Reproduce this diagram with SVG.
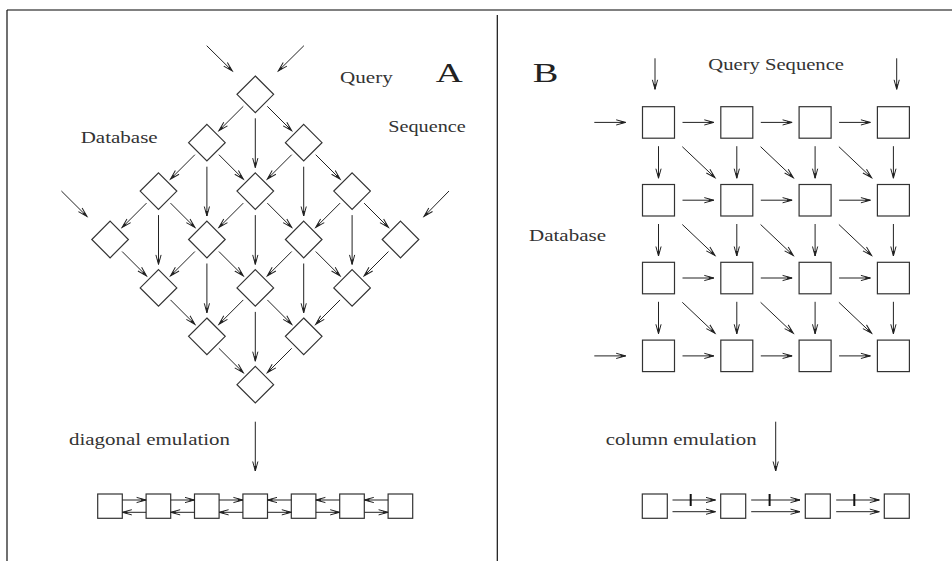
<svg xmlns="http://www.w3.org/2000/svg" xmlns:xlink="http://www.w3.org/1999/xlink" width="952" height="561" viewBox="0 0 952 561">
<style>
.ln{fill:none;stroke:#222;stroke-width:1}
.ar{fill:none;stroke:#222;stroke-width:1;marker-end:url(#ah)}
.nd{fill:#fff;stroke:#333;stroke-width:1.2}
.tk{stroke:#111;stroke-width:2}
.tx{font-family:"Liberation Serif","Times New Roman",serif;font-size:16.5px;fill:#333}
.big{font-family:"Liberation Serif","Times New Roman",serif;font-size:27.5px;fill:#222}
</style>
<defs>
<marker id="ah" markerWidth="12" markerHeight="8" refX="10" refY="4" orient="auto" markerUnits="userSpaceOnUse">
<path d="M0.5,1.4 L10,4 L0.5,6.6" fill="none" stroke="#222" stroke-width="1"/>
<path d="M5,2.6 L10,4 L5,5.4 Z" fill="#222"/>
</marker>
<polygon id="dia" points="0,-18.3 18.3,0 0,18.3 -18.3,0"/>
</defs>
<rect width="952" height="561" fill="#fff"/>
<g id="frame">
<line x1="7" y1="10" x2="952" y2="10" stroke="#808080" stroke-width="2"/>
<line x1="7" y1="10" x2="7" y2="561" stroke="#111" stroke-width="1.2"/>
<line x1="497.3" y1="15" x2="497.3" y2="561" stroke="#111" stroke-width="1.2"/>
</g>
<g id="labels">
<text class="tx" x="340" y="82.5" textLength="52.7" lengthAdjust="spacingAndGlyphs">Query</text>
<text class="big" x="435.7" y="81.7" textLength="27" lengthAdjust="spacingAndGlyphs">A</text>
<text class="tx" x="388.3" y="131.5" textLength="77.4" lengthAdjust="spacingAndGlyphs">Sequence</text>
<text class="tx" x="80.7" y="143" textLength="77" lengthAdjust="spacingAndGlyphs">Database</text>
<text class="tx" x="69" y="444.5" textLength="161" lengthAdjust="spacingAndGlyphs">diagonal emulation</text>
<text class="big" x="532.7" y="81.7" textLength="25.6" lengthAdjust="spacingAndGlyphs">B</text>
<text class="tx" x="708.3" y="70" textLength="135.7" lengthAdjust="spacingAndGlyphs">Query Sequence</text>
<text class="tx" x="529" y="240.5" textLength="77" lengthAdjust="spacingAndGlyphs">Database</text>
<text class="tx" x="605.7" y="444.5" textLength="151" lengthAdjust="spacingAndGlyphs">column emulation</text>
</g>
<g id="a-nodes" class="nd">
<g id="a-0-0"><use xlink:href="#dia" x="255.3" y="94.3"/></g>
<g id="a-1-m1"><use xlink:href="#dia" x="206.9" y="142.7"/></g>
<g id="a-1-p1"><use xlink:href="#dia" x="303.7" y="142.7"/></g>
<g id="a-2-m2"><use xlink:href="#dia" x="158.5" y="191.1"/></g>
<g id="a-2-0"><use xlink:href="#dia" x="255.3" y="191.1"/></g>
<g id="a-2-p2"><use xlink:href="#dia" x="352.1" y="191.1"/></g>
<g id="a-3-m3"><use xlink:href="#dia" x="110.1" y="239.5"/></g>
<g id="a-3-m1"><use xlink:href="#dia" x="206.9" y="239.5"/></g>
<g id="a-3-p1"><use xlink:href="#dia" x="303.7" y="239.5"/></g>
<g id="a-3-p3"><use xlink:href="#dia" x="400.5" y="239.5"/></g>
<g id="a-4-m2"><use xlink:href="#dia" x="158.5" y="287.9"/></g>
<g id="a-4-0"><use xlink:href="#dia" x="255.3" y="287.9"/></g>
<g id="a-4-p2"><use xlink:href="#dia" x="352.1" y="287.9"/></g>
<g id="a-5-m1"><use xlink:href="#dia" x="206.9" y="336.3"/></g>
<g id="a-5-p1"><use xlink:href="#dia" x="303.7" y="336.3"/></g>
<g id="a-6-0"><use xlink:href="#dia" x="255.3" y="384.7"/></g>
</g>
<g id="a-array" class="nd">
<g id="a-b1"><rect x="97.7" y="494" width="24.6" height="24.3"/></g>
<g id="a-b2"><rect x="146.1" y="494" width="24.6" height="24.3"/></g>
<g id="a-b3"><rect x="194.5" y="494" width="24.6" height="24.3"/></g>
<g id="a-b4"><rect x="242.9" y="494" width="24.6" height="24.3"/></g>
<g id="a-b5"><rect x="291.3" y="494" width="24.6" height="24.3"/></g>
<g id="a-b6"><rect x="339.7" y="494" width="24.6" height="24.3"/></g>
<g id="a-b7"><rect x="388.1" y="494" width="24.6" height="24.3"/></g>
</g>
<g id="b-nodes" class="nd">
<g id="b-1-1"><rect x="642.5" y="106.7" width="32" height="31.5"/></g>
<g id="b-1-2"><rect x="720.8" y="106.7" width="32" height="31.5"/></g>
<g id="b-1-3"><rect x="799.1" y="106.7" width="32" height="31.5"/></g>
<g id="b-1-4"><rect x="877.4" y="106.7" width="32" height="31.5"/></g>
<g id="b-2-1"><rect x="642.5" y="184.5" width="32" height="31.5"/></g>
<g id="b-2-2"><rect x="720.8" y="184.5" width="32" height="31.5"/></g>
<g id="b-2-3"><rect x="799.1" y="184.5" width="32" height="31.5"/></g>
<g id="b-2-4"><rect x="877.4" y="184.5" width="32" height="31.5"/></g>
<g id="b-3-1"><rect x="642.5" y="262.3" width="32" height="31.5"/></g>
<g id="b-3-2"><rect x="720.8" y="262.3" width="32" height="31.5"/></g>
<g id="b-3-3"><rect x="799.1" y="262.3" width="32" height="31.5"/></g>
<g id="b-3-4"><rect x="877.4" y="262.3" width="32" height="31.5"/></g>
<g id="b-4-1"><rect x="642.5" y="340.1" width="32" height="31.5"/></g>
<g id="b-4-2"><rect x="720.8" y="340.1" width="32" height="31.5"/></g>
<g id="b-4-3"><rect x="799.1" y="340.1" width="32" height="31.5"/></g>
<g id="b-4-4"><rect x="877.4" y="340.1" width="32" height="31.5"/></g>
</g>
<g id="b-array" class="nd">
<g id="b-b1"><rect x="642.3" y="494" width="25" height="24.3"/></g>
<g id="b-b2"><rect x="720.7" y="494" width="25" height="24.3"/></g>
<g id="b-b3"><rect x="805.3" y="494" width="25" height="24.3"/></g>
<g id="b-b4"><rect x="884.3" y="494" width="25" height="24.3"/></g>
</g>
<g id="connectors">
<path class="ar" d="M206.7,45.7 L232.3,71"/>
<path class="ar" d="M303.9,45.7 L278.3,71"/>
<path class="ar" d="M61.4,191 L87,216.5"/>
<path class="ar" d="M449,191 L424,216.5"/>
<path class="ar" d="M243.3,106.3 l-24.4,24.4"/>
<path class="ar" d="M267.3,106.3 l24.4,24.4"/>
<path class="ar" d="M255.3,118.3 l0,49.3"/>
<path class="ar" d="M194.9,154.7 l-24.4,24.4"/>
<path class="ar" d="M218.9,154.7 l24.4,24.4"/>
<path class="ar" d="M206.9,166.7 l0,49.3"/>
<path class="ar" d="M291.7,154.7 l-24.4,24.4"/>
<path class="ar" d="M315.7,154.7 l24.4,24.4"/>
<path class="ar" d="M303.7,166.7 l0,49.3"/>
<path class="ar" d="M146.5,203.1 l-24.4,24.4"/>
<path class="ar" d="M170.5,203.1 l24.4,24.4"/>
<path class="ar" d="M158.5,215.1 l0,49.3"/>
<path class="ar" d="M243.3,203.1 l-24.4,24.4"/>
<path class="ar" d="M267.3,203.1 l24.4,24.4"/>
<path class="ar" d="M255.3,215.1 l0,49.3"/>
<path class="ar" d="M340.1,203.1 l-24.4,24.4"/>
<path class="ar" d="M364.1,203.1 l24.4,24.4"/>
<path class="ar" d="M352.1,215.1 l0,49.3"/>
<path class="ar" d="M122.1,251.5 l24.4,24.4"/>
<path class="ar" d="M194.9,251.5 l-24.4,24.4"/>
<path class="ar" d="M218.9,251.5 l24.4,24.4"/>
<path class="ar" d="M206.9,263.5 l0,49.3"/>
<path class="ar" d="M291.7,251.5 l-24.4,24.4"/>
<path class="ar" d="M315.7,251.5 l24.4,24.4"/>
<path class="ar" d="M303.7,263.5 l0,49.3"/>
<path class="ar" d="M388.5,251.5 l-24.4,24.4"/>
<path class="ar" d="M170.5,299.9 l24.4,24.4"/>
<path class="ar" d="M243.3,299.9 l-24.4,24.4"/>
<path class="ar" d="M267.3,299.9 l24.4,24.4"/>
<path class="ar" d="M255.3,311.9 l0,49.3"/>
<path class="ar" d="M340.1,299.9 l-24.4,24.4"/>
<path class="ar" d="M218.9,348.3 l24.4,24.4"/>
<path class="ar" d="M291.7,348.3 l-24.4,24.4"/>
<path class="ar" d="M255.3,421.7 L255.3,471"/>
<path class="ar" d="M122.3,500 L146.1,500"/>
<path class="ar" d="M146.1,512.3 L122.3,512.3"/>
<path class="ar" d="M170.7,500 L194.5,500"/>
<path class="ar" d="M194.5,512.3 L170.7,512.3"/>
<path class="ar" d="M219.1,500 L242.9,500"/>
<path class="ar" d="M242.9,512.3 L219.1,512.3"/>
<path class="ar" d="M291.3,500 L267.5,500"/>
<path class="ar" d="M267.5,512.3 L291.3,512.3"/>
<path class="ar" d="M339.7,500 L315.9,500"/>
<path class="ar" d="M315.9,512.3 L339.7,512.3"/>
<path class="ar" d="M388.1,500 L364.3,500"/>
<path class="ar" d="M364.3,512.3 L388.1,512.3"/>
<path class="ar" d="M655,58.3 L655,89.3"/>
<path class="ar" d="M896.7,58.3 L896.7,89.3"/>
<path class="ar" d="M594.3,122.4 L625.7,122.4"/>
<path class="ar" d="M594.3,355.9 L625.7,355.9"/>
<path class="ar" d="M682.5,122.4 l31.3,0"/>
<path class="ar" d="M760.8,122.4 l31.3,0"/>
<path class="ar" d="M839.1,122.4 l31.3,0"/>
<path class="ar" d="M682.5,200.2 l31.3,0"/>
<path class="ar" d="M760.8,200.2 l31.3,0"/>
<path class="ar" d="M839.1,200.2 l31.3,0"/>
<path class="ar" d="M682.5,278 l31.3,0"/>
<path class="ar" d="M760.8,278 l31.3,0"/>
<path class="ar" d="M839.1,278 l31.3,0"/>
<path class="ar" d="M682.5,355.9 l31.3,0"/>
<path class="ar" d="M760.8,355.9 l31.3,0"/>
<path class="ar" d="M839.1,355.9 l31.3,0"/>
<path class="ar" d="M658.5,146.2 l0,32"/>
<path class="ar" d="M736.8,146.2 l0,32"/>
<path class="ar" d="M815.1,146.2 l0,32"/>
<path class="ar" d="M893.4,146.2 l0,32"/>
<path class="ar" d="M658.5,224 l0,32"/>
<path class="ar" d="M736.8,224 l0,32"/>
<path class="ar" d="M815.1,224 l0,32"/>
<path class="ar" d="M893.4,224 l0,32"/>
<path class="ar" d="M658.5,301.8 l0,32"/>
<path class="ar" d="M736.8,301.8 l0,32"/>
<path class="ar" d="M815.1,301.8 l0,32"/>
<path class="ar" d="M893.4,301.8 l0,32"/>
<path class="ar" d="M682.3,146.7 l32.7,31"/>
<path class="ar" d="M760.6,146.7 l32.7,31"/>
<path class="ar" d="M838.9,146.7 l32.7,31"/>
<path class="ar" d="M682.3,224.5 l32.7,31"/>
<path class="ar" d="M760.6,224.5 l32.7,31"/>
<path class="ar" d="M838.9,224.5 l32.7,31"/>
<path class="ar" d="M682.3,302.3 l32.7,31"/>
<path class="ar" d="M760.6,302.3 l32.7,31"/>
<path class="ar" d="M838.9,302.3 l32.7,31"/>
<path class="ar" d="M775.7,421.7 L775.7,471"/>
<path class="ar" d="M672.5,500 L715.5,500"/>
<path class="ar" d="M672.5,511.7 L715.5,511.7"/>
<line class="tk" x1="690.7" y1="494" x2="690.7" y2="506"/>
<path class="ar" d="M751.2,500 L800,500"/>
<path class="ar" d="M751.2,511.7 L800,511.7"/>
<line class="tk" x1="769.6" y1="494" x2="769.6" y2="506"/>
<path class="ar" d="M836.2,500 L879.3,500"/>
<path class="ar" d="M836.2,511.7 L879.3,511.7"/>
<line class="tk" x1="854.3" y1="494" x2="854.3" y2="506"/>
</g>
</svg>
